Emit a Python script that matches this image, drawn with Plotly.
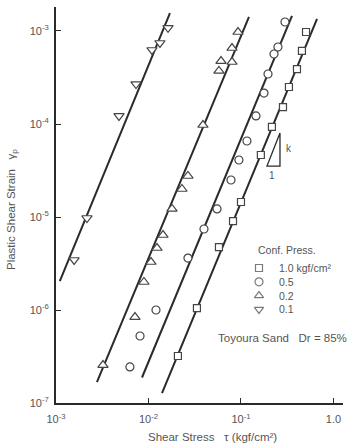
import plotly.graph_objects as go

# ---- data ----
sq_x = [0.505, 0.456, 0.403, 0.330, 0.2845, 0.216, 0.164, 0.100, 0.082, 0.0578, 0.0334, 0.0208]
sq_y = [9.75e-4, 6.1e-4, 3.9e-4, 2.5e-4, 1.52e-4, 9.3e-5, 4.64e-5, 1.45e-5, 9.05e-6, 4.75e-6, 1.05e-6, 3.2e-7]

ci_x = [0.299, 0.251, 0.2275, 0.196, 0.1774, 0.1453, 0.116, 0.095, 0.078, 0.0551, 0.0398, 0.0267, 0.01205, 0.0081, 0.0063]
ci_y = [1.25e-3, 6.73e-4, 5.66e-4, 3.45e-4, 2.15e-4, 1.22e-4, 6.56e-5, 4.1e-5, 2.5e-5, 1.22e-5, 7.43e-6, 3.62e-6, 1.0e-6, 5.25e-7, 2.44e-7]

tu_x = [0.0929, 0.080, 0.0608, 0.080, 0.0578, 0.0388, 0.0267, 0.0230, 0.01795, 0.01435, 0.01236, 0.01064, 0.00893, 0.00714, 0.00322]
tu_y = [9.75e-4, 6.56e-4, 4.75e-4, 4.64e-4, 3.72e-4, 9.75e-5, 2.76e-5, 2.0e-5, 1.22e-5, 6.4e-6, 4.64e-6, 3.28e-6, 2.0e-6, 8.4e-7, 2.56e-7]

td_x = [0.01626, 0.0133, 0.0109, 0.00733, 0.0048, 0.00216, 0.00157]
td_y = [1.08e-3, 7.43e-4, 6.25e-4, 2.69e-4, 1.22e-4, 9.75e-6, 3.45e-6]

# fitted lines (end points)
line10_x = [0.0140, 0.664]; line10_y = [1.28e-7, 1.35e-3]
line05_x = [0.00851, 0.356]; line05_y = [1.88e-7, 1.45e-3]
line02_x = [0.00277, 0.122]; line02_y = [1.68e-7, 1.42e-3]
line01_x = [0.00110, 0.01706]; line01_y = [2.05e-6, 1.56e-3]

# slope triangle
tri_x = [0.264, 0.191, 0.264, 0.264]
tri_y = [8.0e-5, 3.53e-5, 3.53e-5, 8.0e-5]

legend_title = "Conf. Press."
legend_names = ["1.0 kgf/cm²", "0.5", "0.2", "0.1"]
legend_symbols = ["square", "circle", "triangle-up", "triangle-down"]
legend_sizes = [7, 8, 8, 8]

x_tickvals = [1e-3, 1e-2, 1e-1, 1.0]
x_ticktext = ["10<sup>-3</sup>", "10<sup>-2</sup>", "10<sup>-1</sup>", "1.0"]
y_tickvals = [1e-7, 1e-6, 1e-5, 1e-4, 1e-3]
y_ticktext = ["10<sup>-7</sup>", "10<sup>-6</sup>", "10<sup>-5</sup>", "10<sup>-4</sup>", "10<sup>-3</sup>"]

INK = "#2a2a2a"
TXT = "#555555"
FONT = "Liberation Sans, Arial, sans-serif"

# plot area in pixels
L, R, T, B = 56, 343, 7, 403
W, H = 351, 448


def px(xp):
    return (xp - L) / (R - L)


def py(yp):
    return (B - yp) / (B - T)


fig = go.Figure()
for lx, ly in [(line10_x, line10_y), (line05_x, line05_y), (line02_x, line02_y), (line01_x, line01_y)]:
    fig.add_trace(go.Scatter(x=lx, y=ly, mode="lines", line=dict(color=INK, width=2),
                             showlegend=False, hoverinfo="skip"))

fig.add_trace(go.Scatter(x=tri_x, y=tri_y, mode="lines", line=dict(color=INK, width=1.3),
                         showlegend=False, hoverinfo="skip"))

mk = dict(color="white", line=dict(color="#444444", width=1.2))
series = [(sq_x, sq_y, 7), (ci_x, ci_y, 8), (tu_x, tu_y, 9), (td_x, td_y, 9)]
for (sx, sy, sz), name, sym in zip(series, legend_names, legend_symbols):
    fig.add_trace(go.Scatter(x=sx, y=sy, mode="markers", name=name, showlegend=False,
                             marker=dict(symbol=sym, size=sz, **mk)))

# manual legend: symbols on an overlay axis measured in paper fractions
leg_x0, leg_y0, leg_dy = 259, 268, 13.8
leg_ys = [py(leg_y0 + i * leg_dy) for i in range(len(legend_names))]
fig.add_trace(go.Scatter(x=[px(leg_x0)] * len(legend_names), y=leg_ys, mode="markers",
                         xaxis="x2", yaxis="y2", showlegend=False, hoverinfo="skip",
                         marker=dict(symbol=legend_symbols, size=legend_sizes, **mk)))
for name, yy in zip(legend_names, leg_ys):
    fig.add_annotation(x=px(277), y=yy, xref="paper", yref="paper", text=name, showarrow=False,
                       xanchor="left", yanchor="middle", font=dict(size=10.5, color=TXT))
fig.add_annotation(x=px(256), y=py(250), xref="paper", yref="paper", text=legend_title,
                   showarrow=False, xanchor="left", yanchor="middle", font=dict(size=10.5, color=TXT))

fig.add_annotation(x=-0.53, y=-4.26, xref="x", yref="y", text="k", showarrow=False,
                   font=dict(size=10, color=TXT), xanchor="left")
fig.add_annotation(x=-0.66, y=-4.55, xref="x", yref="y", text="1", showarrow=False,
                   font=dict(size=10, color=TXT))
fig.add_annotation(x=px(216), y=py(338), xref="paper", yref="paper",
                   text="Toyoura Sand   Dr = 85%", showarrow=False,
                   xanchor="left", yanchor="middle", font=dict(size=11.5, color=TXT))

# axis titles
fig.add_annotation(x=px(213), y=py(437), xref="paper", yref="paper",
                   text="Shear Stress   τ (kgf/cm²)", showarrow=False,
                   xanchor="center", yanchor="middle", font=dict(size=11.5, color=TXT))
fig.add_annotation(x=px(12), y=py(210), xref="paper", yref="paper",
                   text="Plastic Shear Strain   γ<sub>p</sub>", showarrow=False, textangle=-90,
                   xanchor="center", yanchor="middle", font=dict(size=11.5, color=TXT))

fig.update_layout(
    width=W, height=H,
    margin=dict(l=L, r=W - R, t=T, b=H - B),
    paper_bgcolor="white", plot_bgcolor="white",
    font=dict(family=FONT, size=10, color=TXT),
    showlegend=False,
    xaxis=dict(type="log", range=[-3, 0.103], showgrid=False, zeroline=False,
               showline=True, linecolor=INK, linewidth=2, mirror=False,
               ticks="inside", ticklen=5, tickcolor=INK, tickwidth=1.2,
               ticklabelstandoff=5,
               tickvals=x_tickvals, ticktext=x_ticktext, tickfont=dict(size=11, color=TXT)),
    yaxis=dict(type="log", range=[-7, -2.742], showgrid=False, zeroline=False,
               showline=True, linecolor=INK, linewidth=2, mirror=False,
               ticks="inside", ticklen=5, tickcolor=INK, tickwidth=1.2,
               ticklabelstandoff=3,
               tickvals=y_tickvals, ticktext=y_ticktext, tickfont=dict(size=11, color=TXT)),
    xaxis2=dict(overlaying="x", range=[0, 1], visible=False, anchor="y2"),
    yaxis2=dict(overlaying="y", range=[0, 1], visible=False, anchor="x2"),
)

fig.write_html("out.html")
